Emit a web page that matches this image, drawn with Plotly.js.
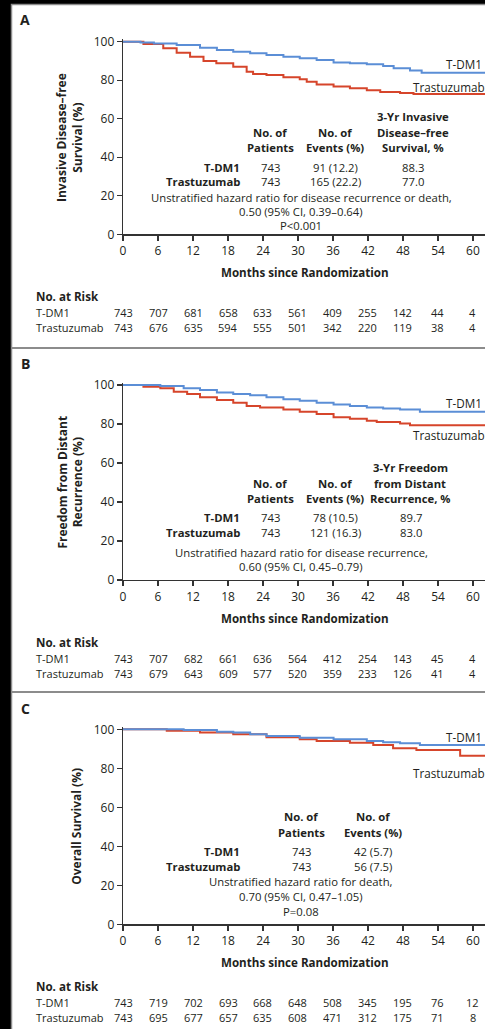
<!DOCTYPE html>
<html><head><meta charset="utf-8">
<script src="https://cdn.plot.ly/plotly-3.0.1.min.js"></script>
<style>html,body{margin:0;padding:0;background:#000;}#chart{width:485px;height:1029px;}</style>
</head><body><div id="chart"></div>
<script>
// ---------------- DATA ----------------
const tickMonths = [0, 6, 12, 18, 24, 30, 36, 42, 48, 54, 60];
const yTicks = [0, 20, 40, 60, 80, 100];
const armNames = ["T-DM1", "Trastuzumab"];

// Panel A: Invasive disease-free survival
const aTdm1Months = [0, 3.0, 5.3, 9.2, 13.2, 16.1, 18.9, 21.8, 24.6, 27.5, 30.3, 33.2, 36.1, 38.9, 41.8, 44.6, 46.4, 49.2, 51.2, 62.1];
const aTdm1Surv   = [100, 99.6, 99.1, 98.3, 96.9, 95.7, 94.8, 94.0, 93.1, 92.2, 91.4, 90.5, 89.2, 88.8, 88.3, 87.4, 86.2, 85.0, 83.9, 83.9];
const aTrasMonths = [0, 3.5, 6.9, 9.2, 11.5, 13.8, 16.0, 18.9, 21.2, 22.3, 24.6, 27.5, 30.3, 31.5, 33.2, 36.1, 38.9, 41.8, 44.1, 47.5, 49.8, 62.1];
const aTrasSurv   = [100, 98.8, 96.6, 94.3, 92.2, 90.0, 88.8, 87.0, 84.4, 83.2, 82.7, 81.5, 80.5, 79.2, 77.8, 76.8, 75.8, 74.8, 73.9, 73.4, 72.8, 72.8];
const aRiskTdm1 = [743, 707, 681, 658, 633, 561, 409, 255, 142, 44, 4];
const aRiskTras = [743, 676, 635, 594, 555, 501, 342, 220, 119, 38, 4];
const aHeader3 = ["3-Yr Invasive", "Disease\u2013free", "Survival, %"];
const aPatients = ["743", "743"];
const aEvents = ["91 (12.2)", "165 (22.2)"];
const aRate3 = ["88.3", "77.0"];
const aHazard = ["Unstratified hazard ratio for disease recurrence or death,", "0.50 (95% CI, 0.39\u20130.64)", "P<0.001"];

// Panel B: Freedom from distant recurrence
const bTdm1Months = [0, 6.4, 10.4, 13.2, 16.1, 18.9, 21.8, 24.6, 27.5, 30.3, 33.2, 36.1, 38.9, 41.8, 44.6, 47.5, 50.9, 62.1];
const bTdm1Surv   = [100, 99.5, 98.3, 97.4, 96.2, 95.4, 94.7, 93.7, 92.7, 91.9, 90.9, 90.0, 89.2, 88.5, 88.0, 87.5, 86.3, 86.3];
const bTrasMonths = [0, 3.5, 6.4, 8.7, 11.0, 13.2, 16.1, 18.9, 21.2, 23.5, 27.5, 30.3, 33.2, 36.1, 38.9, 41.8, 43.5, 47.5, 49.2, 62.1];
const bTrasSurv   = [100, 99.1, 98.3, 96.6, 95.4, 93.7, 92.3, 90.9, 89.2, 88.5, 87.5, 86.3, 85.1, 83.5, 82.7, 81.7, 81.0, 80.3, 79.4, 79.4];
const bRiskTdm1 = [743, 707, 682, 661, 636, 564, 412, 254, 143, 45, 4];
const bRiskTras = [743, 679, 643, 609, 577, 520, 359, 233, 126, 41, 4];
const bHeader3 = ["3-Yr Freedom", "from Distant", "Recurrence, %"];
const bPatients = ["743", "743"];
const bEvents = ["78 (10.5)", "121 (16.3)"];
const bRate3 = ["89.7", "83.0"];
const bHazard = ["Unstratified hazard ratio for disease recurrence,", "0.60 (95% CI, 0.45\u20130.79)"];

// Panel C: Overall survival
const cTdm1Months = [0, 10.4, 16.1, 18.9, 21.8, 24.6, 30.3, 36.1, 41.8, 44.6, 47.5, 50.9, 62.1];
const cTdm1Surv   = [100, 99.6, 98.8, 98.3, 97.4, 96.6, 95.7, 94.9, 94.0, 93.3, 92.8, 91.9, 91.9];
const cTrasMonths = [0, 7.5, 13.2, 18.9, 24.6, 30.3, 33.2, 38.9, 42.9, 46.3, 50.3, 57.8, 62.1];
const cTrasSurv   = [100, 99.3, 98.4, 97.4, 95.9, 94.9, 94.0, 93.1, 91.9, 90.3, 89.4, 86.5, 86.5];
const cRiskTdm1 = [743, 719, 702, 693, 668, 648, 508, 345, 195, 76, 12];
const cRiskTras = [743, 695, 677, 657, 635, 608, 471, 312, 175, 71, 8];
const cPatients = ["743", "743"];
const cEvents = ["42 (5.7)", "56 (7.5)"];
const cHazard = ["Unstratified hazard ratio for death,", "0.70 (95% CI, 0.47\u20131.05)", "P=0.08"];

// ---------------- LAYOUT ----------------
const W = 485, H = 1029;
const px = x => x / W, py = y => 1 - y / H;
const FONT = "'Open Sans', 'Noto Sans', sans-serif";
const TXT = "#231f20";
const BLUE = "#5b8ed6", RED = "#d6452b";
const YMAX = 101.2;
const F_BODY = 11.3, F_TICK = 12, F_RISK = 11, F_TITLE = 12, F_XTITLE = 11.6, F_END = 11.7;

const panelGeo = [
  {letter: "A", top: 0,   y100: 41.7,  y0: 234.3, title: "Invasive Disease\u2013free<br>Survival (%)", titleX: 70},
  {letter: "B", top: 344, y100: 385,   y0: 580,   title: "Freedom from Distant<br>Recurrence (%)", titleX: 70},
  {letter: "C", top: 688, y100: 729.3, y0: 924.3, title: "Overall Survival (%)", titleX: 77}
];

const traces = [];
const annotations = [];
const shapes = [];
const layout = {
  width: W, height: H,
  margin: {l: 0, r: 0, t: 0, b: 0},
  paper_bgcolor: "#000", plot_bgcolor: "rgba(0,0,0,0)",
  showlegend: false,
  font: {family: FONT, color: TXT, size: 12},
  annotations, shapes
};

// background panels
shapes.push({type: "rect", xref: "paper", yref: "paper", x0: px(11.5), x1: 1.05, y0: -0.05, y1: py(4.5),
  fillcolor: "#fff", line: {color: "#8c8c8c", width: 1.5}, layer: "below"});
[348, 692].forEach(y => shapes.push({type: "line", xref: "paper", yref: "paper", x0: px(11.5), x1: 1.05, y0: py(y), y1: py(y),
  line: {color: "#8c8c8c", width: 2}, layer: "below"}));

const curves = [
  [[aTdm1Months, aTdm1Surv], [aTrasMonths, aTrasSurv]],
  [[bTdm1Months, bTdm1Surv], [bTrasMonths, bTrasSurv]],
  [[cTdm1Months, cTdm1Surv], [cTrasMonths, cTrasSurv]]
];
const risks = [[aRiskTdm1, aRiskTras], [bRiskTdm1, bRiskTras], [cRiskTdm1, cRiskTras]];

function ann(text, x, y, opts) {
  annotations.push(Object.assign({text, x: px(x), y: py(y), xref: "paper", yref: "paper",
    showarrow: false, xanchor: "center", yanchor: "middle", font: {family: FONT, size: F_BODY, color: TXT}}, opts || {}));
}

panelGeo.forEach((g, i) => {
  const s = (g.y0 - g.y100) / 100;
  const topPx = g.y100 - (YMAX - 100) * s;
  const xa = i === 0 ? "xaxis" : "xaxis" + (i + 1);
  const ya = i === 0 ? "yaxis" : "yaxis" + (i + 1);
  const xr = i === 0 ? "x" : "x" + (i + 1);
  const yr = i === 0 ? "y" : "y" + (i + 1);
  layout[xa] = {domain: [px(123), 1], range: [0, 62.06], anchor: yr, tickvals: tickMonths,
    ticks: "outside", ticklen: 5, tickwidth: 1.2, tickcolor: "#333", showline: true, linecolor: "#333", linewidth: 1.3,
    showgrid: false, zeroline: false, tickfont: {family: FONT, size: F_TICK, color: TXT}, fixedrange: true};
  layout[ya] = {domain: [py(g.y0), py(topPx)], range: [0, YMAX], anchor: xr, tickvals: yTicks,
    ticks: "outside", ticklen: 5, tickwidth: 1.2, tickcolor: "#333", showline: true, linecolor: "#333", linewidth: 1.3,
    showgrid: false, zeroline: false, tickfont: {family: FONT, size: F_TICK, color: TXT}, fixedrange: true};
  [[1, RED], [0, BLUE]].forEach(([k, col]) => {
    traces.push({type: "scatter", mode: "lines", x: curves[i][k][0], y: curves[i][k][1], xaxis: xr, yaxis: yr,
      line: {color: col, width: 2, shape: "hv"}, hoverinfo: "skip", name: armNames[k]});
  });
  ann("<b>" + g.letter + "</b>", 25, g.top + 20, {font: {family: FONT, size: 14, color: TXT}});
  annotations.push({text: "<b>" + g.title + "</b>", xref: "paper", yref: "paper", x: px(g.titleX), y: py((g.y100 + g.y0) / 2),
    textangle: -90, showarrow: false, xanchor: "center", yanchor: "middle", font: {family: FONT, size: F_TITLE, color: TXT}});
  ann("<b>Months since Randomization</b>", 305, g.y0 + 38.5, {font: {family: FONT, size: F_XTITLE, color: TXT}});
  const nar = g.y0 + 62.5;
  ann("<b>No. at Risk</b>", 34, nar, {xanchor: "left", font: {family: FONT, size: F_XTITLE, color: TXT}});
  [0, 1].forEach(k => {
    const ry = nar + 15.5 + k * 15.5;
    ann(armNames[k], 34, ry, {xanchor: "left", font: {family: FONT, size: F_RISK, color: TXT}});
    tickMonths.forEach((m, j) => {
      annotations.push({text: String(risks[i][k][j]), x: m, xref: xr, y: py(ry), yref: "paper", showarrow: false,
        xanchor: "center", yanchor: "middle", font: {family: FONT, size: F_RISK, color: TXT}});
    });
  });
});

// end labels
const endFont = {family: FONT, size: F_END, color: TXT};
ann("T-DM1", 484, 64, {xanchor: "right", font: endFont});
ann("Trastuzumab", 487, 87.5, {xanchor: "right", font: endFont});
ann("T-DM1", 484, 403, {xanchor: "right", font: endFont});
ann("Trastuzumab", 487, 435, {xanchor: "right", font: endFont});
ann("T-DM1", 484, 737, {xanchor: "right", font: endFont});
ann("Trastuzumab", 487, 773, {xanchor: "right", font: endFont});

// Panel A table
const colPat = 270, colEv = 335, colRate = 413, rowLab = 242;
aHeader3.forEach((t, j) => ann("<b>" + t + "</b>", colRate, 116 + j * 16));
ann("<b>No. of</b>", colPat, 132); ann("<b>Patients</b>", colPat, 148);
ann("<b>No. of</b>", colEv, 132); ann("<b>Events (%)</b>", colEv, 148);
[0, 1].forEach(k => {
  const y = 167 + k * 15;
  ann("<b>" + armNames[k] + "</b>", rowLab, y, {xanchor: "right"});
  ann(aPatients[k], colPat, y); ann(aEvents[k], colEv, y); ann(aRate3[k], colRate, y);
});
aHazard.forEach((t, j) => ann(t, 301, 197 + j * 14.5));

// Panel B table
bHeader3.forEach((t, j) => ann("<b>" + t + "</b>", 410, 467 + j * 16));
ann("<b>No. of</b>", colPat, 483); ann("<b>Patients</b>", colPat, 499);
ann("<b>No. of</b>", colEv, 483); ann("<b>Events (%)</b>", colEv, 499);
[0, 1].forEach(k => {
  const y = 517 + k * 15.5;
  ann("<b>" + armNames[k] + "</b>", rowLab, y, {xanchor: "right"});
  ann(bPatients[k], colPat, y); ann(bEvents[k], colEv, y); ann(bRate3[k], 411, y);
});
bHazard.forEach((t, j) => ann(t, 301, 552 + j * 14.5));

// Panel C table
ann("<b>No. of</b>", 301, 816); ann("<b>Patients</b>", 301, 832);
ann("<b>No. of</b>", 373, 816); ann("<b>Events (%)</b>", 373, 832);
[0, 1].forEach(k => {
  const y = 851 + k * 15.5;
  ann("<b>" + armNames[k] + "</b>", rowLab, y, {xanchor: "right"});
  ann(cPatients[k], 301, y); ann(cEvents[k], 373, y);
});
cHazard.forEach((t, j) => ann(t, 301, 881 + j * 15));

Plotly.newPlot("chart", traces, layout, {staticPlot: true, displayModeBar: false});
</script>
</body></html>
